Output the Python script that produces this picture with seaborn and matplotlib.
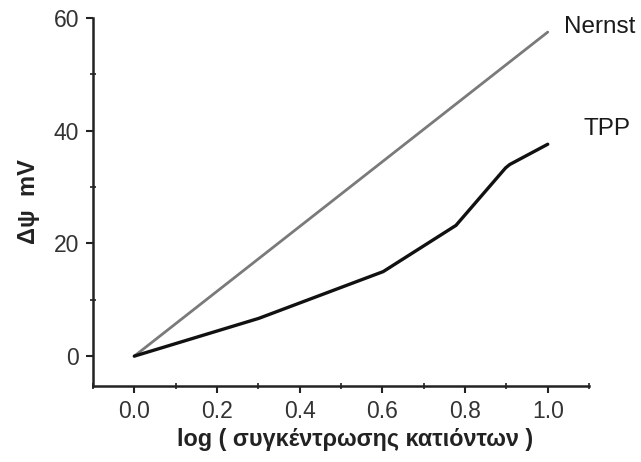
import matplotlib
matplotlib.use("Agg")
import matplotlib.pyplot as plt
import seaborn as sns
import pandas as pd
from matplotlib.ticker import MultipleLocator

# Data
nernst_x = [0.0, 1.0]
nernst_y = [0.0, 57.5]
tpp_x = [0.0, 0.301, 0.602, 0.778, 0.898, 0.908, 1.0]
tpp_y = [0.0, 6.7, 15.0, 23.2, 33.4, 34.0, 37.6]
x_ticks = [0.0, 0.2, 0.4, 0.6, 0.8, 1.0]
y_ticks = [0, 20, 40, 60]
x_label = "log ( συγκέντρωσης κατιόντων )"
y_label = "Δψ  mV"
series_names = ["Nernst", "TPP"]

sns.set_style("ticks")
plt.rcParams['font.family'] = ['Liberation Sans', 'DejaVu Sans']

fig = plt.figure(figsize=(6.41, 4.62), dpi=100)
ax = fig.add_axes([0.145, 0.1645, 0.774, 0.7965])

df_n = pd.DataFrame({"x": nernst_x, "y": nernst_y})
df_t = pd.DataFrame({"x": tpp_x, "y": tpp_y})
sns.lineplot(data=df_n, x="x", y="y", ax=ax, color="#7a7a7a", linewidth=2.0, sort=False)
sns.lineplot(data=df_t, x="x", y="y", ax=ax, color="#111111", linewidth=2.4, sort=False)

ax.set_xlim(-0.1, 1.1)
ax.set_ylim(-5.3, 60)
ax.set_xticks(x_ticks)
ax.set_xticklabels([f"{v:.1f}" for v in x_ticks])
ax.set_yticks(y_ticks)
ax.set_yticklabels([str(v) for v in y_ticks])
ax.xaxis.set_minor_locator(MultipleLocator(0.1))
ax.yaxis.set_minor_locator(MultipleLocator(10))

for side in ["top", "right"]:
    ax.spines[side].set_visible(False)
for side in ["left", "bottom"]:
    ax.spines[side].set_linewidth(1.8)
    ax.spines[side].set_color("#222222")

ax.tick_params(axis="both", which="major", direction="out", length=5, width=1.5,
               labelsize=16.5, labelcolor="#333333", color="#222222", pad=5)
ax.tick_params(axis="both", which="minor", direction="inout", length=4, width=1.2, color="#222222")

ax.set_xlabel(x_label, fontsize=16.8, fontweight="bold", color="#222222", labelpad=4, x=0.528)
ax.set_ylabel(y_label, fontsize=17, fontweight="bold", color="#222222", labelpad=10)

ax.text(nernst_x[-1] + 0.039, 58.4, series_names[0], fontsize=17.5,
        color="#1a1a1a", ha="left", va="center")
ax.text(tpp_x[-1] + 0.087, 40.3, series_names[1], fontsize=17.5,
        color="#1a1a1a", ha="left", va="center")

fig.savefig("out.png", dpi=100, facecolor="white")
